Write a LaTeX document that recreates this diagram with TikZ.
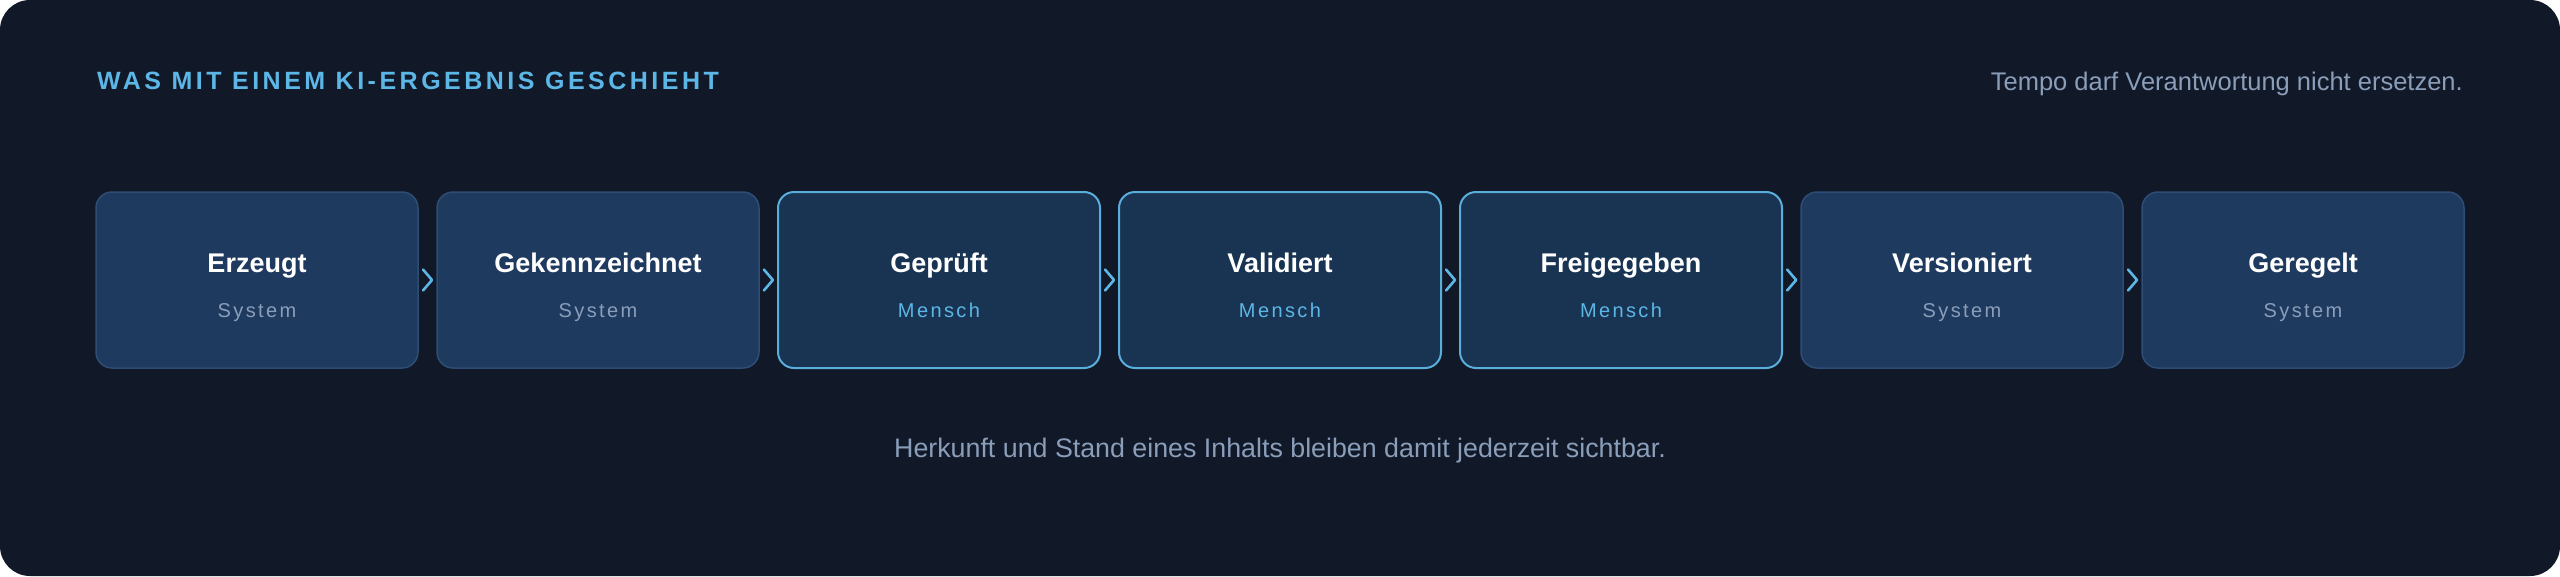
\documentclass[tikz,border=0pt]{standalone}
\usepackage{fontspec}
\setmainfont{Liberation Sans}
\newfontfamily\trackfont[LetterSpace=12]{Liberation Sans}
\newfontfamily\headfont[LetterSpace=14]{Liberation Sans}
\usetikzlibrary{calc}
\definecolor{bgdark}{HTML}{111827}
\definecolor{sysfill}{HTML}{1F3A5F}
\definecolor{sysline}{HTML}{2D4D75}
\definecolor{menfill}{HTML}{193452}
\definecolor{accent}{HTML}{5CB6E6}
\definecolor{menline}{HTML}{5AAEDC}
\definecolor{muted}{HTML}{8A9EBA}
\tikzset{
  stagebox/.style={rounded corners=16pt, minimum width=322pt, minimum height=176pt, inner sep=0pt},
  sysbox/.style={stagebox, fill=sysfill, draw=sysline, line width=1.5pt},
  menbox/.style={stagebox, fill=menfill, draw=menline, line width=2pt},
  stagetitle/.style={anchor=base, text=white, font=\fontsize{27}{30}\selectfont\bfseries, inner sep=0pt},
  sysrole/.style={anchor=base, text=muted, font=\trackfont\fontsize{20}{24}\selectfont, inner sep=0pt},
  menrole/.style={anchor=base, text=accent, font=\trackfont\fontsize{20}{24}\selectfont, inner sep=0pt},
  chev/.style={draw=accent, line width=2.6pt, line cap=round, line join=round},
}
\begin{document}
\begin{tikzpicture}[x=1pt,y=-1pt]
\useasboundingbox (0,0) rectangle (2560,576);
\fill[white] (0,0) rectangle (2560,576);
\fill[bgdark, rounded corners=30pt] (0,0) rectangle (2560,576);
\node[anchor=base west, inner sep=0pt, text=accent, font=\headfont\fontsize{25}{30}\selectfont\bfseries] (head) at (97,89) {WAS MIT EINEM KI-ERGEBNIS GESCHIEHT};
\node[anchor=base east, inner sep=0pt, text=muted, font=\fontsize{25.5}{30}\selectfont] (motto) at (2463,90) {Tempo darf Verantwortung nicht ersetzen.};
\node[anchor=base, inner sep=0pt, text=muted, font=\fontsize{26.8}{30}\selectfont] (foot) at (1280,457) {Herkunft und Stand eines Inhalts bleiben damit jederzeit sichtbar.};
\foreach \i/\t/\r/\k in {0/Erzeugt/System/sys,1/Gekennzeichnet/System/sys,2/Geprüft/Mensch/men,3/Validiert/Mensch/men,4/Freigegeben/Mensch/men,5/Versioniert/System/sys,6/Geregelt/System/sys}{
  \node[\k box] (b\i) at ({257+341*\i},280) {};
  \node[stagetitle] (t\i) at ({257+341*\i},272) {\t};
  \node[\k role] (r\i) at ({257+341*\i},317) {\r};
}
\foreach \i [evaluate=\i as \j using int(\i+1)] in {0,...,5}{
  \coordinate (c\i) at ($(b\i.east)!0.5!(b\j.west)$);
  \draw[chev] ($(c\i)+(-4.5,-10.5)$) -- ($(c\i)+(4.5,0)$) -- ($(c\i)+(-4.5,10.5)$);
}
\end{tikzpicture}
\end{document}
